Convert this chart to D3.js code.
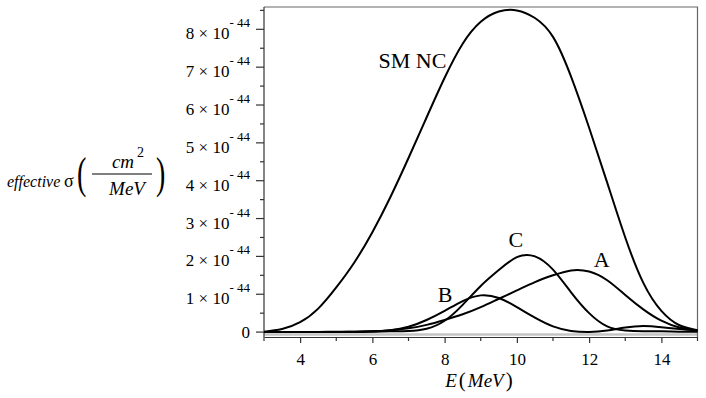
<!DOCTYPE html>
<html>
<head>
<meta charset="utf-8">
<script src="https://cdn.jsdelivr.net/npm/d3@7"></script>
<style>
  body { margin: 0; background: #fff; }
  svg text { font-family: "Liberation Serif", "Times New Roman", serif; fill: #000; }
</style>
</head>
<body>
<div id="chart"></div>
<script>
var energies = [3, 3.5, 4, 4.5, 5, 5.5, 6, 6.5, 7, 7.5, 8, 8.5, 9, 9.5, 10,
    10.5, 11, 11.5, 12, 12.5, 13, 13.5, 14, 14.5, 15];

// effective cross-section in units of 1e-44 cm^2/MeV
var smNC = [0.01, 0.08, 0.26, 0.62, 1.18, 1.84, 2.64, 3.57, 4.6, 5.67, 6.72, 7.62, 8.2, 8.47, 8.5,
    8.3, 7.8, 6.75, 5.4, 3.95, 2.5, 1.3, 0.56, 0.18, 0.05];
var seriesA = [0, 0, 0, 0, 0.01, 0.01, 0.02, 0.05, 0.1, 0.19, 0.32, 0.47, 0.66, 0.88, 1.1,
    1.32, 1.5, 1.63, 1.6, 1.37, 0.98, 0.6, 0.3, 0.12, 0.04];
var seriesB = [0, 0, 0, 0, 0, 0.01, 0.02, 0.05, 0.14, 0.32, 0.56, 0.82, 0.97, 0.9, 0.66,
    0.38, 0.15, 0.03, 0.0, 0.04, 0.12, 0.16, 0.13, 0.08, 0.04];
var seriesC = [0, 0, 0, 0, 0, 0, 0.01, 0.02, 0.03, 0.09, 0.3, 0.72, 1.22, 1.64, 1.98,
    2.0, 1.65, 1.05, 0.5, 0.15, 0.04, 0.02, 0.02, 0.01, 0.01];

var xTicks = [4, 6, 8, 10, 12, 14];
var xMinor = [3, 5, 7, 9, 11, 13, 15];
var yTicks = [0, 1, 2, 3, 4, 5, 6, 7, 8];
var yMinor = [0.5, 1.5, 2.5, 3.5, 4.5, 5.5, 6.5, 7.5, 8.5];

// curve names and where they sit, in data units
var curveLabels = [
    { name: "SM NC", e: 7.11, v: 6.98 },
    { name: "C", e: 9.97, v: 2.25 },
    { name: "A", e: 12.35, v: 1.72 },
    { name: "B", e: 8.01, v: 0.79 },
];

var serif = "'Liberation Serif', 'Times New Roman', serif";
var width = 706, height = 398;
var svg = d3.select("#chart").append("svg")
    .attr("width", width)
    .attr("height", height)
    .attr("font-family", serif);

svg.append("rect").attr("width", width).attr("height", height).attr("fill", "#fff");

var x = d3.scaleLinear().domain([3, 15]).range([264, 697.5]);
var y = d3.scaleLinear().domain([-0.13, 8.59]).range([337, 7]);

// light grey zero line
svg.append("line")
    .attr("x1", x(3)).attr("x2", x(15))
    .attr("y1", y(0) + 2.4).attr("y2", y(0) + 2.4)
    .attr("stroke", "#c4c4c4")
    .attr("stroke-width", 2.5);

// frame: top and right
svg.append("path")
    .attr("d", "M" + x(3) + "," + y.range()[1] + "H" + x(15) + "V" + y.range()[0])
    .attr("fill", "none")
    .attr("stroke", "#666")
    .attr("stroke-width", 1.2);

// bottom axis
var xAxis = svg.append("g").attr("transform", "translate(0," + y.range()[0] + ")");
xAxis.call(d3.axisBottom(x).tickValues(xTicks).tickSize(6).tickSizeOuter(0).tickPadding(10)
        .tickFormat(d3.format("d")));
xAxis.attr("font-family", serif);
xAxis.selectAll(".tick text").attr("font-size", 17).attr("font-family", serif);
xAxis.select(".domain").attr("stroke", "#333").attr("stroke-width", 1.2);
xAxis.selectAll(".tick line").attr("stroke", "#333").attr("stroke-width", 1.2);
xAxis.selectAll(".minor")
    .data(xMinor)
    .enter()
    .append("line")
    .attr("x1", (d) => x(d)).attr("x2", (d) => x(d))
    .attr("y1", 0).attr("y2", 4)
    .attr("stroke", "#333")
    .attr("stroke-width", 1.2);

// left axis
var yAxis = svg.append("g").attr("transform", "translate(" + x(3) + ",0)");
yAxis.append("line")
    .attr("y1", y.range()[0]).attr("y2", y.range()[1])
    .attr("stroke", "#333").attr("stroke-width", 1.2);
yAxis.selectAll(".major")
    .data(yTicks)
    .enter()
    .append("line")
    .attr("x1", -8).attr("x2", 0)
    .attr("y1", (d) => y(d)).attr("y2", (d) => y(d))
    .attr("stroke", "#333").attr("stroke-width", 1.2);
yAxis.selectAll(".minor")
    .data(yMinor)
    .enter()
    .append("line")
    .attr("x1", -4).attr("x2", 0)
    .attr("y1", (d) => y(d)).attr("y2", (d) => y(d))
    .attr("stroke", "#333").attr("stroke-width", 1.2);

// tick labels like "8 × 10^-44"
yTicks.forEach((d) => {
    var t = svg.append("text")
        .attr("x", 250)
        .attr("text-anchor", "end")
        .attr("font-family", serif)
        .attr("font-size", 17);
    if (d === 0) {
        t.attr("y", y(d) + 6).text("0");
        return;
    }
    t.attr("y", y(d) + 10);
    t.append("tspan").text(d + " \u00d7 10");
    t.append("tspan").attr("dy", -12).attr("font-size", 13).text("- 44");
});

// curves
var line = d3.line()
    .curve(d3.curveNatural)
    .x((d) => x(d[0]))
    .y((d) => y(d[1]));

[smNC, seriesA, seriesB, seriesC].forEach((vals) => {
    svg.append("path")
        .datum(energies.map((e, i) => [e, vals[i]]))
        .attr("fill", "none")
        .attr("stroke", "#000")
        .attr("stroke-width", 2)
        .attr("stroke-linejoin", "round")
        .attr("d", line);
});

svg.selectAll(".curve-label")
    .data(curveLabels)
    .enter()
    .append("text")
    .attr("x", (d) => x(d.e))
    .attr("y", (d) => y(d.v))
    .attr("text-anchor", "middle")
    .attr("font-family", serif)
    .attr("font-size", 22)
    .text((d) => d.name);

// x title: E(MeV)
var xt = svg.append("text")
    .attr("x", 479)
    .attr("y", 387)
    .attr("text-anchor", "middle")
    .attr("font-family", serif)
    .attr("font-size", 19);
xt.append("tspan").attr("font-style", "italic").text("E");
xt.append("tspan").attr("dx", 2).attr("font-size", 21).text("(");
xt.append("tspan").attr("dx", 2).attr("font-style", "italic").text("MeV");
xt.append("tspan").attr("dx", 2).attr("font-size", 21).text(")");

// y title: effective sigma (cm^2 / MeV)
var yt = svg.append("g").attr("font-family", serif);
yt.append("text")
    .attr("x", 7).attr("y", 187)
    .attr("font-size", 16)
    .attr("font-style", "italic")
    .text("effective");
yt.append("text")
    .attr("x", 64).attr("y", 187)
    .attr("font-size", 18)
    .text("\u03c3");
yt.append("text")
    .attr("transform", "translate(77,188) scale(1,1.6)")
    .attr("font-size", 28)
    .text("(");
yt.append("text")
    .attr("x", 123).attr("y", 168)
    .attr("text-anchor", "middle")
    .attr("font-size", 19)
    .attr("font-style", "italic")
    .text("cm");
yt.append("text")
    .attr("x", 137).attr("y", 157)
    .attr("font-size", 14)
    .text("2");
yt.append("line")
    .attr("x1", 92).attr("x2", 152)
    .attr("y1", 174).attr("y2", 174)
    .attr("stroke", "#000").attr("stroke-width", 1);
yt.append("text")
    .attr("x", 127).attr("y", 195)
    .attr("text-anchor", "middle")
    .attr("font-size", 19)
    .attr("font-style", "italic")
    .text("MeV");
yt.append("text")
    .attr("transform", "translate(156,188) scale(1,1.6)")
    .attr("font-size", 28)
    .text(")");
</script>
</body>
</html>
